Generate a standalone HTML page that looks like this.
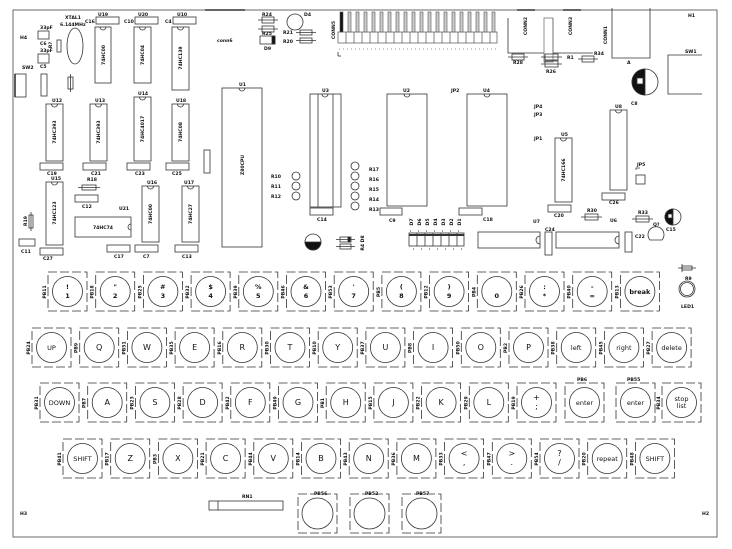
<!DOCTYPE html>
<html><head><meta charset="utf-8">
<style>
html,body{margin:0;padding:0;background:#fff;}
svg{display:block;}
text{font-family:"DejaVu Sans","Liberation Sans",sans-serif;fill:#111;}
.l{font-size:4.6px;font-weight:bold;}
.k{font-size:8px;text-anchor:middle;}
.kd{font-size:6.5px;font-weight:bold;}
.ks{font-size:6.5px;text-anchor:middle;}
.c{text-anchor:middle;}
</style></head><body>
<svg width="732" height="549" viewBox="0 0 732 549" xmlns="http://www.w3.org/2000/svg">
<g fill="none" stroke="#333" stroke-width="0.8">
<rect x="13" y="10" width="704" height="527" stroke="#444"/>
<line x1="205" y1="10" x2="245" y2="10" stroke="#666" stroke-width="2"/>
<line x1="517" y1="10" x2="535" y2="10" stroke="#666" stroke-width="2"/>
<line x1="563" y1="10" x2="581" y2="10" stroke="#666" stroke-width="2"/>

<ellipse cx="75" cy="46" rx="8" ry="18"/>
<rect x="38" y="31" width="11" height="8"/>
<rect x="38" y="54" width="11" height="9"/>
<rect x="57" y="40" width="4" height="12"/>
<rect x="15" y="74" width="11" height="23"/>
<line x1="15" y1="74" x2="15" y2="97" stroke-width="1.6"/>
<rect x="41" y="74" width="6" height="22"/>
<rect x="68" y="77" width="5" height="12"/><line x1="70.5" y1="74" x2="70.5" y2="92"/>

<rect x="96" y="17" width="23" height="7"/>
<rect x="135" y="17" width="23" height="7"/>
<rect x="173" y="17" width="23" height="7"/>
<rect x="95" y="27" width="16" height="56"/><path d="M100,27 a3,3 0 0 0 6,0"/>
<rect x="134" y="27" width="17" height="56"/><path d="M139.5,27 a3,3 0 0 0 6,0"/>
<rect x="172" y="27" width="17" height="63"/><path d="M177.5,27 a3,3 0 0 0 6,0"/>

<rect x="46" y="104" width="17" height="57"/><path d="M51.5,104 a3,3 0 0 0 6,0"/>
<rect x="90" y="104" width="17" height="57"/><path d="M95.5,104 a3,3 0 0 0 6,0"/>
<rect x="134" y="97" width="17" height="64"/><path d="M139.5,97 a3,3 0 0 0 6,0"/>
<rect x="172" y="104" width="17" height="57"/><path d="M177.5,104 a3,3 0 0 0 6,0"/>
<rect x="40" y="163" width="23" height="7"/>
<rect x="83" y="163" width="23" height="7"/>
<rect x="127" y="163" width="23" height="7"/>
<rect x="166" y="163" width="23" height="7"/>
<rect x="204" y="150" width="6" height="23"/>

<rect x="222" y="88" width="40" height="159"/><path d="M239,88 a3,3 0 0 0 6,0"/>
<circle cx="296" cy="176" r="4"/><circle cx="296" cy="186" r="4"/><circle cx="296" cy="196" r="4"/>
<rect x="310" y="94" width="31" height="113"/><line x1="318" y1="94" x2="318" y2="207"/><line x1="333" y1="94" x2="333" y2="207"/>
<path d="M322,94 a3,3 0 0 0 6,0"/>
<rect x="310" y="208" width="23" height="7"/>
<circle cx="355" cy="166" r="4"/><circle cx="355" cy="176" r="4"/><circle cx="355" cy="186" r="4"/><circle cx="355" cy="196" r="4"/><circle cx="355" cy="206" r="4"/>

<rect x="46" y="182" width="17" height="63"/><path d="M51.5,182 a3,3 0 0 0 6,0"/>
<rect x="40" y="248" width="23" height="7"/>
<rect x="82" y="185" width="14" height="5"/><line x1="78" y1="187.5" x2="100" y2="187.5"/>
<rect x="75" y="195" width="23" height="7"/>
<rect x="75" y="217" width="56" height="20"/><path d="M131,224 a3,3 0 0 0 0,6"/>
<rect x="29" y="215" width="4" height="13"/><line x1="31" y1="212" x2="31" y2="231"/>
<rect x="19" y="239" width="16" height="7"/>
<rect x="142" y="186" width="17" height="56"/><path d="M147.5,186 a3,3 0 0 0 6,0"/>
<rect x="135" y="245" width="23" height="7"/>
<rect x="107" y="245" width="23" height="7"/>
<rect x="182" y="186" width="17" height="56"/><path d="M187.5,186 a3,3 0 0 0 6,0"/>
<rect x="175" y="245" width="23" height="7"/>

<circle cx="313" cy="242" r="8"/>
<path d="M305,242 a8,8 0 0 0 16,0 z" fill="#111"/>
<rect x="340" y="237" width="11" height="5"/><rect x="340" y="244" width="11" height="5"/>
<line x1="336" y1="239.5" x2="355" y2="239.5"/><line x1="336" y1="246.5" x2="355" y2="246.5"/>
<rect x="348" y="237" width="2" height="5" fill="#111"/>

<rect x="262" y="17" width="12" height="6"/><line x1="258" y1="20" x2="278" y2="20"/>
<rect x="262" y="26" width="12" height="6"/><line x1="258" y1="29" x2="278" y2="29"/>
<rect x="260" y="36" width="15" height="8"/><rect x="272" y="36" width="3" height="8" fill="#111"/>
<circle cx="295" cy="22" r="8"/>
<rect x="300" y="30" width="12" height="5"/><line x1="296" y1="32.5" x2="316" y2="32.5"/>
<rect x="300" y="38" width="12" height="5"/><line x1="296" y1="40.5" x2="316" y2="40.5"/>

<g stroke-width="0.6">
<rect x="338" y="32" width="159" height="11"/>
<line x1="346" y1="32" x2="346" y2="43"/><line x1="354" y1="32" x2="354" y2="43"/><line x1="362" y1="32" x2="362" y2="43"/><line x1="370" y1="32" x2="370" y2="43"/><line x1="378" y1="32" x2="378" y2="43"/><line x1="386" y1="32" x2="386" y2="43"/><line x1="394" y1="32" x2="394" y2="43"/><line x1="402" y1="32" x2="402" y2="43"/><line x1="410" y1="32" x2="410" y2="43"/><line x1="418" y1="32" x2="418" y2="43"/><line x1="426" y1="32" x2="426" y2="43"/><line x1="434" y1="32" x2="434" y2="43"/><line x1="442" y1="32" x2="442" y2="43"/><line x1="450" y1="32" x2="450" y2="43"/><line x1="458" y1="32" x2="458" y2="43"/><line x1="466" y1="32" x2="466" y2="43"/><line x1="474" y1="32" x2="474" y2="43"/><line x1="482" y1="32" x2="482" y2="43"/><line x1="490" y1="32" x2="490" y2="43"/>
</g>
<g stroke="#555" stroke-width="0.6">
<rect x="340" y="12" width="3" height="20" fill="#111"/>
<rect x="348" y="12" width="3" height="20" fill="#ccc"/><rect x="356" y="12" width="3" height="20" fill="#ccc"/><rect x="364" y="12" width="3" height="20" fill="#ccc"/><rect x="372" y="12" width="3" height="20" fill="#ccc"/><rect x="380" y="12" width="3" height="20" fill="#ccc"/><rect x="388" y="12" width="3" height="20" fill="#ccc"/><rect x="396" y="12" width="3" height="20" fill="#ccc"/><rect x="404" y="12" width="3" height="20" fill="#ccc"/><rect x="412" y="12" width="3" height="20" fill="#ccc"/><rect x="420" y="12" width="3" height="20" fill="#ccc"/><rect x="428" y="12" width="3" height="20" fill="#ccc"/><rect x="436" y="12" width="3" height="20" fill="#ccc"/><rect x="444" y="12" width="3" height="20" fill="#ccc"/><rect x="452" y="12" width="3" height="20" fill="#ccc"/><rect x="460" y="12" width="3" height="20" fill="#ccc"/><rect x="468" y="12" width="3" height="20" fill="#ccc"/><rect x="476" y="12" width="3" height="20" fill="#ccc"/><rect x="484" y="12" width="3" height="20" fill="#ccc"/><rect x="492" y="12" width="3" height="20" fill="#ccc"/>
</g>
<line x1="339" y1="49" x2="497" y2="49" stroke="#777" stroke-dasharray="1,3"/>
<line x1="338" y1="52" x2="338" y2="56"/><line x1="338" y1="56" x2="341" y2="56"/>

<polyline points="508,18 508,53 544,53"/><polyline points="553,18 553,53 593,53"/>
<rect x="544" y="18" width="9" height="44" stroke="#777"/>
<rect x="512" y="54" width="12" height="6"/><line x1="508" y1="57" x2="528" y2="57"/>
<rect x="545" y="54" width="13" height="6"/><rect x="545" y="61" width="13" height="6"/>
<line x1="541" y1="57" x2="562" y2="57"/><line x1="541" y1="64" x2="562" y2="64"/>
<rect x="582" y="56" width="12" height="6"/><line x1="578" y1="59" x2="598" y2="59"/>
<polyline points="612,8 612,58 650,58 650,8"/>
<polyline points="702,55 668,55 668,94 702,94"/>
<circle cx="645" cy="82" r="13"/>
<path d="M645,69 a13,13 0 0 0 0,26 z" fill="#111"/>
<rect x="637" y="78" width="6" height="6" fill="#fff"/>

<rect x="387" y="94" width="40" height="112"/><path d="M404,94 a3,3 0 0 0 6,0"/>
<rect x="467" y="94" width="40" height="112"/><path d="M484,94 a3,3 0 0 0 6,0"/>
<rect x="380" y="208" width="22" height="7"/>
<rect x="459" y="208" width="23" height="7"/>
<rect x="409" y="233" width="55" height="13"/>
<line x1="409" y1="235" x2="464" y2="235" stroke-width="2"/>
<line x1="417" y1="233" x2="417" y2="246"/><line x1="425" y1="233" x2="425" y2="246"/><line x1="433" y1="233" x2="433" y2="246"/><line x1="441" y1="233" x2="441" y2="246"/><line x1="449" y1="233" x2="449" y2="246"/><line x1="457" y1="233" x2="457" y2="246"/>
<line x1="410" y1="231" x2="464" y2="231" stroke-dasharray="1,7" stroke-width="1"/>
<line x1="413" y1="249" x2="464" y2="249" stroke-dasharray="1,7" stroke-width="1"/>

<rect x="555" y="138" width="17" height="64"/><path d="M560.5,138 a3,3 0 0 0 6,0"/>
<rect x="548" y="205" width="23" height="7"/>
<rect x="610" y="110" width="17" height="80"/><path d="M615.5,110 a3,3 0 0 0 6,0"/>
<rect x="602" y="193" width="23" height="7"/>
<rect x="636" y="175" width="9" height="9"/><polyline points="636,170 636,168 640,168"/>
<rect x="585" y="214" width="13" height="6"/><line x1="581" y1="217" x2="602" y2="217"/>
<rect x="636" y="216" width="13" height="6"/><line x1="632" y1="219" x2="653" y2="219"/>
<circle cx="673" cy="217" r="8"/><path d="M673,209 a8,8 0 0 0 0,16 z" fill="#111"/><rect x="668" y="214" width="4" height="4" fill="#fff"/>
<path d="M650,240 a8,8 0 1 1 12,0 z"/>
<rect x="478" y="232" width="62" height="16"/><path d="M540,236 a4,4 0 0 0 0,8"/>
<rect x="545" y="232" width="7" height="23"/>
<rect x="556" y="232" width="63" height="16"/><path d="M619,236 a4,4 0 0 0 0,8"/>
<rect x="625" y="232" width="7" height="20"/>
<rect x="682" y="266" width="10" height="4"/><line x1="678" y1="268" x2="696" y2="268"/><line x1="682" y1="264" x2="682" y2="272"/>
<circle cx="687" cy="289" r="8"/><circle cx="687" cy="289" r="6.5"/>

<rect x="209" y="501" width="74" height="9"/><line x1="218" y1="501" x2="218" y2="510"/>
</g>

<g class="l">
<text x="20" y="39">H4</text>
<text x="65" y="19">XTAL1</text>
<text x="60" y="26">6.144MHz</text>
<text x="40" y="29">33pF</text><text x="40" y="52">33pF</text>
<text x="40" y="45">C6</text><text x="40" y="68">C5</text>
<text x="22" y="69">SW2</text>
<text x="85" y="23">C16</text><text x="98" y="16">U19</text>
<text x="124" y="23">C10</text><text x="138" y="16">U20</text>
<text x="165" y="23">C4</text><text x="177" y="16">U10</text>
<text x="217" y="42">conn6</text>
<text x="52" y="102">U12</text><text x="95" y="102">U13</text><text x="138" y="95">U14</text><text x="176" y="102">U18</text>
<text x="47" y="175">C19</text><text x="91" y="175">C21</text><text x="135" y="175">C23</text><text x="172" y="175">C25</text>
<text x="239" y="86">U1</text>
<text x="271" y="178">R10</text><text x="271" y="188">R11</text><text x="271" y="198">R12</text>
<text x="322" y="92">U3</text><text x="317" y="221">C14</text>
<text x="51" y="180">U15</text><text x="43" y="260">C27</text>
<text x="87" y="181">R18</text><text x="82" y="208">C12</text><text x="119" y="210">U21</text>
<text x="21" y="253">C11</text>
<text x="147" y="184">U16</text><text x="143" y="258">C7</text>
<text x="114" y="258">C17</text>
<text x="184" y="184">U17</text><text x="182" y="258">C13</text>
<text x="262" y="16">R24</text><text x="262" y="35">R25</text><text x="264" y="50">D9</text>
<text x="304" y="16">D4</text><text x="283" y="34">R21</text><text x="283" y="43">R20</text>
<text x="513" y="64">R28</text><text x="546" y="73">R26</text><text x="567" y="59">R1</text><text x="594" y="55">R34</text>
<text x="627" y="64">A</text>
<text x="688" y="17">H1</text><text x="685" y="53">SW1</text><text x="631" y="105">C8</text>
<text x="403" y="92">U2</text><text x="451" y="92">JP2</text><text x="483" y="92">U4</text>
<text x="369" y="171">R17</text><text x="369" y="181">R16</text><text x="369" y="191">R15</text><text x="369" y="201">R14</text><text x="369" y="211">R13</text>
<text x="389" y="222">C9</text><text x="483" y="221">C18</text>
<text x="534" y="108">JP4</text><text x="534" y="116">JP3</text><text x="534" y="140">JP1</text>
<text x="561" y="136">U5</text><text x="554" y="217">C20</text>
<text x="615" y="108">U8</text><text x="609" y="204">C26</text>
<text x="637" y="166">JP5</text>
<text x="587" y="212">R30</text><text x="610" y="222">U6</text><text x="638" y="214">R33</text>
<text x="653" y="226">Q?</text><text x="666" y="231">C15</text>
<text x="533" y="223">U7</text><text x="545" y="231">C24</text><text x="635" y="238">C22</text>
<text x="685" y="280">R9</text><text x="681" y="308">LED1</text>
<text x="242" y="498">RN1</text>
<text x="20" y="515">H3</text><text x="702" y="515">H2</text>
<text x="314" y="495">PB56</text><text x="365" y="495">PB52</text><text x="416" y="495">PB57</text>
<text x="577" y="381">PB6</text><text x="627" y="381">PB55</text>
</g>
<g class="l">
<text transform="translate(105,55) rotate(-90)" class="c">74HC00</text>
<text transform="translate(144,55) rotate(-90)" class="c">74HC04</text>
<text transform="translate(182,58) rotate(-90)" class="c">74HC139</text>
<text transform="translate(56,132) rotate(-90)" class="c">74HC393</text>
<text transform="translate(100,132) rotate(-90)" class="c">74HC393</text>
<text transform="translate(144,129) rotate(-90)" class="c">74HC4017</text>
<text transform="translate(182,132) rotate(-90)" class="c">74HC08</text>
<text transform="translate(244,165) rotate(-90)" class="c">Z80CPU</text>
<text transform="translate(56,213) rotate(-90)" class="c">74HC123</text>
<text x="103" y="229" class="c">74HC74</text>
<text transform="translate(152,214) rotate(-90)" class="c">74HC00</text>
<text transform="translate(192,214) rotate(-90)" class="c">74HC27</text>
<text transform="translate(565,170) rotate(-90)" class="c">74HC166</text>
<text transform="translate(335,30) rotate(-90)" class="c">CONN5</text>
<text transform="translate(527,26) rotate(-90)" class="c">CONN2</text>
<text transform="translate(572,26) rotate(-90)" class="c">CONN3</text>
<text transform="translate(607,35) rotate(-90)" class="c">CONN1</text>
<text transform="translate(52,45) rotate(-90)" class="c">R?</text>
<text transform="translate(27,221) rotate(-90)" class="c">R19</text>
<text transform="translate(364,243) rotate(-90)" class="c">R4 D8</text>
<text transform="translate(413,222) rotate(-90)" class="c">D7</text><text transform="translate(421,222) rotate(-90)" class="c">D6</text><text transform="translate(429,222) rotate(-90)" class="c">D5</text><text transform="translate(437,222) rotate(-90)" class="c">D4</text><text transform="translate(445,222) rotate(-90)" class="c">D3</text><text transform="translate(453,222) rotate(-90)" class="c">D2</text><text transform="translate(461,222) rotate(-90)" class="c">D1</text>
</g>

<g fill="none" stroke="#333" stroke-width="0.8">
<defs>
<g id="kb"><rect x="0" y="0" width="39" height="39" stroke-dasharray="9,3"/><circle cx="19.5" cy="19.5" r="15"/></g>
<g id="kbig"><rect x="0" y="0" width="39" height="39" stroke-dasharray="9,3"/><circle cx="19.5" cy="19.5" r="15.5"/></g>
</defs>
<use href="#kb" x="48" y="272"/><use href="#kb" x="95.7" y="272"/><use href="#kb" x="143.4" y="272"/><use href="#kb" x="191.1" y="272"/><use href="#kb" x="238.8" y="272"/><use href="#kb" x="286.5" y="272"/><use href="#kb" x="334.2" y="272"/><use href="#kb" x="381.9" y="272"/><use href="#kb" x="429.6" y="272"/><use href="#kb" x="477.3" y="272"/><use href="#kb" x="525" y="272"/><use href="#kb" x="572.7" y="272"/><use href="#kb" x="620.4" y="272"/>
<use href="#kb" x="32" y="328"/><use href="#kb" x="79.7" y="328"/><use href="#kb" x="127.4" y="328"/><use href="#kb" x="175.1" y="328"/><use href="#kb" x="222.8" y="328"/><use href="#kb" x="270.5" y="328"/><use href="#kb" x="318.2" y="328"/><use href="#kb" x="365.9" y="328"/><use href="#kb" x="413.6" y="328"/><use href="#kb" x="461.3" y="328"/><use href="#kb" x="509" y="328"/><use href="#kb" x="556.7" y="328"/><use href="#kb" x="604.4" y="328"/><use href="#kb" x="652.1" y="328"/>
<use href="#kb" x="40" y="383"/><use href="#kb" x="87.7" y="383"/><use href="#kb" x="135.4" y="383"/><use href="#kb" x="183.1" y="383"/><use href="#kb" x="230.8" y="383"/><use href="#kb" x="278.5" y="383"/><use href="#kb" x="326.2" y="383"/><use href="#kb" x="373.9" y="383"/><use href="#kb" x="421.6" y="383"/><use href="#kb" x="469.3" y="383"/><use href="#kb" x="517" y="383"/><use href="#kb" x="565" y="383"/><use href="#kb" x="616" y="383"/><use href="#kb" x="662" y="383"/>
<use href="#kb" x="63" y="439"/><use href="#kb" x="110.7" y="439"/><use href="#kb" x="158.4" y="439"/><use href="#kb" x="206.1" y="439"/><use href="#kb" x="253.8" y="439"/><use href="#kb" x="301.5" y="439"/><use href="#kb" x="349.2" y="439"/><use href="#kb" x="396.9" y="439"/><use href="#kb" x="444.6" y="439"/><use href="#kb" x="492.3" y="439"/><use href="#kb" x="540" y="439"/><use href="#kb" x="587.7" y="439"/><use href="#kb" x="635.4" y="439"/>
<use href="#kbig" x="298" y="494"/><use href="#kbig" x="350" y="494"/><use href="#kbig" x="402" y="494"/>
</g>

<g class="k">
<g class="kd">
<text x="67.5" y="289">!</text><text x="67.5" y="298">1</text>
<text x="115.2" y="289">"</text><text x="115.2" y="298">2</text>
<text x="162.9" y="289">#</text><text x="162.9" y="298">3</text>
<text x="210.6" y="289">$</text><text x="210.6" y="298">4</text>
<text x="258.3" y="289">%</text><text x="258.3" y="298">5</text>
<text x="306" y="289">&amp;</text><text x="306" y="298">6</text>
<text x="353.7" y="289">'</text><text x="353.7" y="298">7</text>
<text x="401.4" y="289">(</text><text x="401.4" y="298">8</text>
<text x="449.1" y="289">)</text><text x="449.1" y="298">9</text>
<text x="496.8" y="298">0</text>
<text x="544.5" y="289">:</text><text x="544.5" y="298">*</text>
<text x="592.2" y="289">-</text><text x="592.2" y="298">=</text>
<text x="639.9" y="294">break</text>
</g>
<text x="51.5" y="350" class="ks">UP</text>
<text x="99.2" y="350">Q</text><text x="146.9" y="350">W</text><text x="194.6" y="350">E</text><text x="242.3" y="350">R</text><text x="290" y="350">T</text><text x="337.7" y="350">Y</text><text x="385.4" y="350">U</text><text x="433.1" y="350">I</text><text x="480.8" y="350">O</text><text x="528.5" y="350">P</text>
<text x="576.2" y="350" class="ks">left</text><text x="623.9" y="350" class="ks">right</text><text x="671.6" y="350" class="ks">delete</text>
<text x="59.5" y="405" class="ks">DOWN</text>
<text x="107.2" y="405">A</text><text x="154.9" y="405">S</text><text x="202.6" y="405">D</text><text x="250.3" y="405">F</text><text x="298" y="405">G</text><text x="345.7" y="405">H</text><text x="393.4" y="405">J</text><text x="441.1" y="405">K</text><text x="488.8" y="405">L</text>
<text x="536.5" y="400">+</text><text x="536.5" y="409">;</text>
<text x="584.5" y="405" class="ks">enter</text><text x="635.5" y="405" class="ks">enter</text>
<text x="681.5" y="401" class="ks">stop</text><text x="681.5" y="408" class="ks">list</text>
<text x="82.5" y="461" class="ks">SHIFT</text>
<text x="130.2" y="461">Z</text><text x="177.9" y="461">X</text><text x="225.6" y="461">C</text><text x="273.3" y="461">V</text><text x="321" y="461">B</text><text x="368.7" y="461">N</text><text x="416.4" y="461">M</text>
<text x="464.1" y="456">&lt;</text><text x="464.1" y="465">,</text>
<text x="511.8" y="456">&gt;</text><text x="511.8" y="465">.</text>
<text x="559.5" y="456">?</text><text x="559.5" y="465">/</text>
<text x="607.2" y="461" class="ks">repeat</text><text x="654.9" y="461" class="ks">SHIFT</text>
</g>

<g class="l">
<text transform="translate(46,292) rotate(-90)" class="c">PB11</text>
<text transform="translate(93.7,292) rotate(-90)" class="c">PB18</text>
<text transform="translate(141.4,292) rotate(-90)" class="c">PB25</text>
<text transform="translate(189.1,292) rotate(-90)" class="c">PB32</text>
<text transform="translate(236.8,292) rotate(-90)" class="c">PB39</text>
<text transform="translate(284.5,292) rotate(-90)" class="c">PB46</text>
<text transform="translate(332.2,292) rotate(-90)" class="c">PB53</text>
<text transform="translate(379.9,292) rotate(-90)" class="c">PB5</text>
<text transform="translate(427.6,292) rotate(-90)" class="c">PB12</text>
<text transform="translate(475.3,292) rotate(-90)" class="c">PB4</text>
<text transform="translate(523,292) rotate(-90)" class="c">PB26</text>
<text transform="translate(570.7,292) rotate(-90)" class="c">PB40</text>
<text transform="translate(618.4,292) rotate(-90)" class="c">PB13</text>
<text transform="translate(30,348) rotate(-90)" class="c">PB24</text>
<text transform="translate(77.7,348) rotate(-90)" class="c">PB9</text>
<text transform="translate(125.4,348) rotate(-90)" class="c">PB51</text>
<text transform="translate(173.1,348) rotate(-90)" class="c">PB35</text>
<text transform="translate(220.8,348) rotate(-90)" class="c">PB16</text>
<text transform="translate(268.5,348) rotate(-90)" class="c">PB30</text>
<text transform="translate(316.2,348) rotate(-90)" class="c">PB10</text>
<text transform="translate(363.9,348) rotate(-90)" class="c">PB37</text>
<text transform="translate(411.6,348) rotate(-90)" class="c">PB8</text>
<text transform="translate(459.3,348) rotate(-90)" class="c">PB50</text>
<text transform="translate(507,348) rotate(-90)" class="c">PB2</text>
<text transform="translate(554.7,348) rotate(-90)" class="c">PB38</text>
<text transform="translate(602.4,348) rotate(-90)" class="c">PB45</text>
<text transform="translate(650.1,348) rotate(-90)" class="c">PB27</text>
<text transform="translate(38,403) rotate(-90)" class="c">PB31</text>
<text transform="translate(85.7,403) rotate(-90)" class="c">PB7</text>
<text transform="translate(133.4,403) rotate(-90)" class="c">PB23</text>
<text transform="translate(181.1,403) rotate(-90)" class="c">PB28</text>
<text transform="translate(228.8,403) rotate(-90)" class="c">PB42</text>
<text transform="translate(276.5,403) rotate(-90)" class="c">PB49</text>
<text transform="translate(324.2,403) rotate(-90)" class="c">PB1</text>
<text transform="translate(371.9,403) rotate(-90)" class="c">PB15</text>
<text transform="translate(419.6,403) rotate(-90)" class="c">PB22</text>
<text transform="translate(467.3,403) rotate(-90)" class="c">PB29</text>
<text transform="translate(515,403) rotate(-90)" class="c">PB19</text>
<text transform="translate(660,403) rotate(-90)" class="c">PB34</text>
<text transform="translate(61,459) rotate(-90)" class="c">PB41</text>
<text transform="translate(108.7,459) rotate(-90)" class="c">PB17</text>
<text transform="translate(156.4,459) rotate(-90)" class="c">PB3</text>
<text transform="translate(204.1,459) rotate(-90)" class="c">PB21</text>
<text transform="translate(251.8,459) rotate(-90)" class="c">PB44</text>
<text transform="translate(299.5,459) rotate(-90)" class="c">PB14</text>
<text transform="translate(347.2,459) rotate(-90)" class="c">PB43</text>
<text transform="translate(394.9,459) rotate(-90)" class="c">PB36</text>
<text transform="translate(442.6,459) rotate(-90)" class="c">PB33</text>
<text transform="translate(490.3,459) rotate(-90)" class="c">PB47</text>
<text transform="translate(538,459) rotate(-90)" class="c">PB54</text>
<text transform="translate(585.7,459) rotate(-90)" class="c">PB20</text>
<text transform="translate(633.4,459) rotate(-90)" class="c">PB48</text>
</g>
</svg>
</body></html>
